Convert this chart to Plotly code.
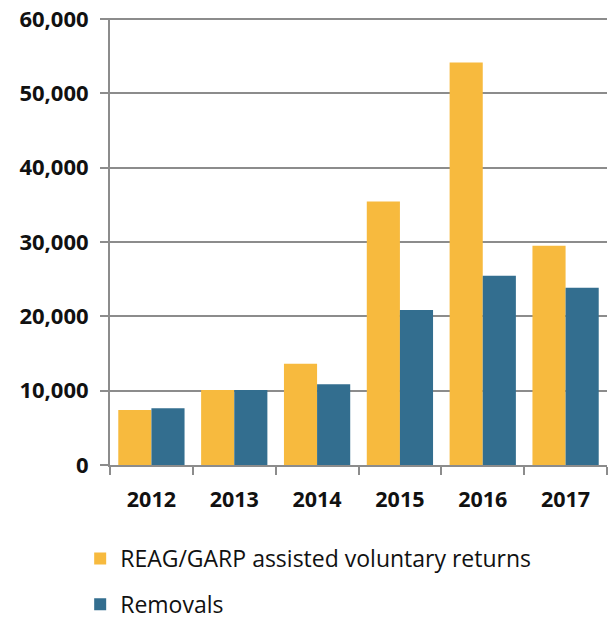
import plotly.graph_objects as go

years = ["2012", "2013", "2014", "2015", "2016", "2017"]
reag_garp = [7390, 10090, 13610, 35460, 54150, 29510]
removals = [7620, 10090, 10860, 20860, 25460, 23840]
y_ticks = [0, 10000, 20000, 30000, 40000, 50000, 60000]
y_tick_labels = ["0", "10,000", "20,000", "30,000", "40,000", "50,000", "60,000"]

fig = go.Figure()
fig.add_trace(go.Bar(x=years, y=reag_garp, name="REAG/GARP assisted voluntary returns",
                     marker=dict(color="#F7BA3E", line=dict(width=0)), legendgroup="a"))
fig.add_trace(go.Bar(x=years, y=removals, name="Removals",
                     marker=dict(color="#336E8F", line=dict(width=0)), legendgroup="b"))

fig.update_layout(
    width=614, height=617,
    margin=dict(l=110, r=7, t=18, b=152, autoexpand=False),
    plot_bgcolor="white", paper_bgcolor="white",
    barmode="group", bargap=0.2, bargroupgap=0,
    font=dict(family="Open Sans", color="#111111"),
    legend=dict(orientation="v", x=-0.06, xanchor="left", y=-0.161, yanchor="top",
                font=dict(size=23, family="Open Sans", color="#111111"), tracegroupgap=13,
                itemwidth=30),
    xaxis=dict(type="category", showline=True, linecolor="#8c8c8c", linewidth=2,
               ticks="outside", tickson="boundaries", ticklen=8, tickcolor="#8c8c8c",
               tickwidth=2, tickfont=dict(size=21.5, family="Open Sans", color="#111111"),
               showgrid=False, ticklabelstandoff=14),
    yaxis=dict(range=[0, 60150], tickvals=y_ticks, ticktext=y_tick_labels,
               showline=True, linecolor="#8c8c8c", linewidth=2,
               ticks="outside", ticklen=8, tickcolor="#8c8c8c", tickwidth=2,
               showgrid=True, gridcolor="#8c8c8c", gridwidth=2,
               tickfont=dict(size=22, family="Open Sans", color="#111111"),
               zeroline=False, ticklabelstandoff=7),
)
fig.update_xaxes(tickfont_weight="bold")
fig.update_yaxes(tickfont_weight="bold")

fig.write_html("out.html", config={"displayModeBar": False},
               post_script="document.body.style.margin='0';document.body.style.overflow='hidden';")
